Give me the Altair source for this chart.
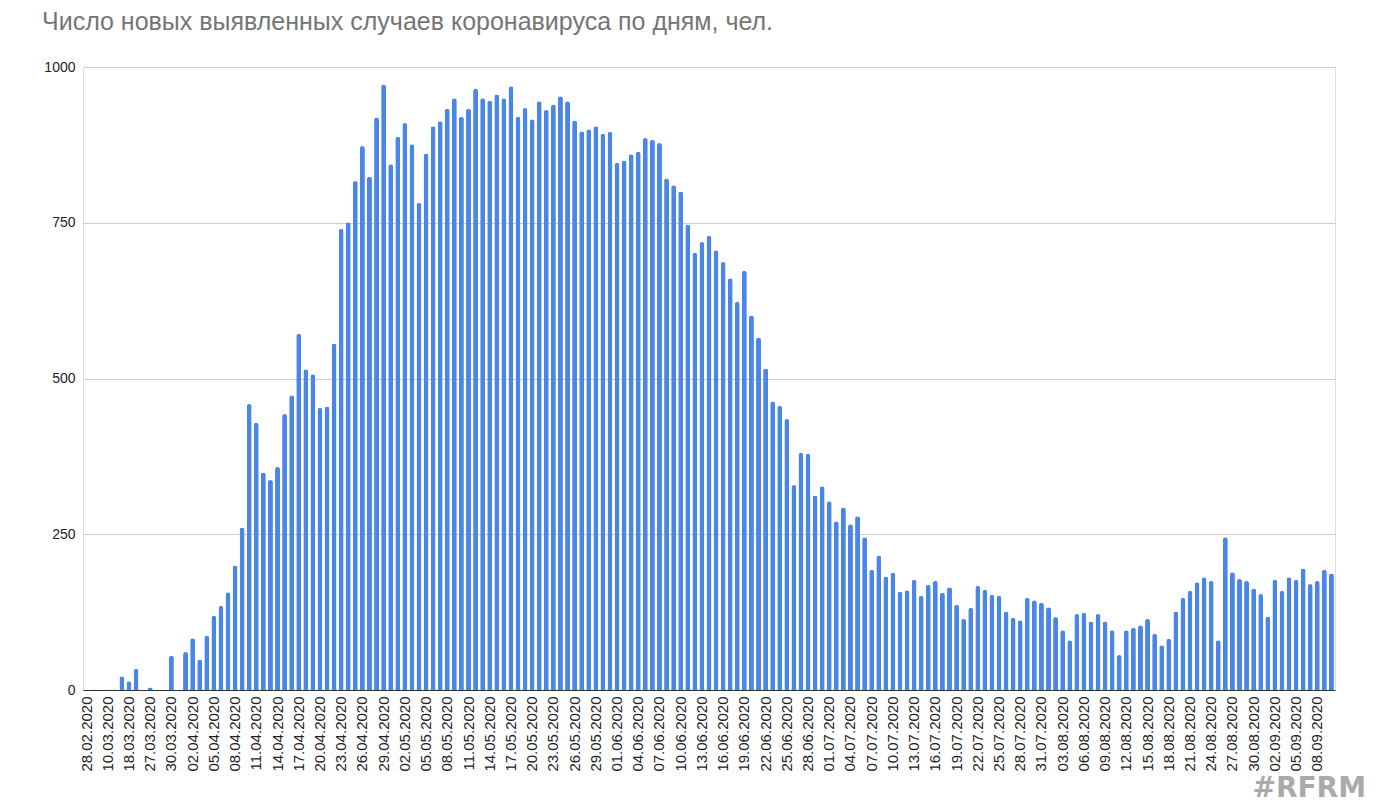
import altair as alt
import pandas as pd

# Category labels (early dates are sparse, then consecutive days)
early_dates = ["28.02.2020", "02.03.2020", "06.03.2020", "10.03.2020", "12.03.2020",
               "15.03.2020", "18.03.2020", "20.03.2020", "24.03.2020"]
later_dates = pd.date_range("2020-03-27", "2020-09-10").strftime("%d.%m.%Y").tolist()
dates = early_dates + later_dates

cases_part1 = [0, 1, 0, 1, 1, 22, 14, 34, 0, 4, 0, 0, 55]
cases_part2 = [0, 61, 83, 49, 87, 119, 135, 157, 200, 261, 459, 429, 349, 337, 358,
               443, 473, 572, 515, 507, 453, 455, 556, 740]
cases_part3 = [751, 817, 873, 824, 919, 972, 844, 888, 910, 876, 782, 861, 905, 913,
               933, 950, 920, 933, 965, 950, 946, 956, 950, 969, 920, 934, 916, 945,
               931, 940, 953, 945, 914, 897, 900, 905]
cases_part4 = [893, 896, 846, 850, 860, 864, 886, 883, 878, 821, 810, 800, 747, 702,
               719, 729, 706, 687, 661, 623, 673, 601, 566, 516, 463, 456, 435, 329,
               381, 379, 312, 327, 303, 271]
cases_part5 = [293, 266, 279, 245, 193, 216, 182, 188, 158, 160, 177, 151, 169, 175,
               156, 165, 137, 114, 132, 167, 161, 153, 151, 126, 116, 112, 148, 144,
               140, 133, 117, 96, 80, 122, 124]
cases_part6 = [110, 122, 110, 96, 56, 96, 100, 104, 114, 90, 72, 82, 126, 148, 159,
               173, 181, 175, 80, 245, 189, 178, 175, 163, 154, 118, 177, 159, 181,
               177, 195, 170, 175, 193, 187]
cases = cases_part1 + cases_part2 + cases_part3 + cases_part4 + cases_part5 + cases_part6

y_ticks = [0, 250, 500, 750, 1000]
x_tick_labels = dates[::3]
title_text = "Число новых выявленных случаев коронавируса по дням, чел."
watermark_text = "#RFRM"

df = pd.DataFrame({"date": dates, "cases": cases})

FONT = "Liberation Sans"

bars = alt.Chart(df).mark_bar(
    color="#4a86e8", cornerRadiusTopLeft=2.5, cornerRadiusTopRight=2.5
).encode(
    x=alt.X(
        "date:N", sort=dates,
        scale=alt.Scale(paddingInner=0.3, paddingOuter=0.15),
        axis=alt.Axis(values=x_tick_labels, labelAngle=-90, title=None, ticks=False,
                      domainColor="#333333", labelFontSize=15, labelFont=FONT,
                      labelColor="#222222", labelPadding=6, grid=False,
                      labelOverlap=False, zindex=1),
    ),
    y=alt.Y(
        "cases:Q",
        scale=alt.Scale(domain=[0, 1000], nice=False),
        axis=alt.Axis(values=y_ticks, format="d", title=None, domain=False, ticks=False,
                      gridColor="#cccccc", labelFontSize=14, labelFont=FONT,
                      labelColor="#222222", labelPadding=8),
    ),
    tooltip=[alt.Tooltip("date:N", title="Дата"), alt.Tooltip("cases:Q", title="Случаев")],
)

title = alt.Chart(pd.DataFrame({"t": [title_text]})).mark_text(
    align="left", baseline="alphabetic", fontSize=25, font=FONT, color="#757575"
).encode(x=alt.value(-41), y=alt.value(-37), text="t:N")

watermark = alt.Chart(pd.DataFrame({"t": [watermark_text]})).mark_text(
    align="right", baseline="alphabetic", fontSize=28, fontWeight="bold",
    color="#aaaaaa", font="DejaVu Sans"
).encode(x=alt.value(1283), y=alt.value(730), text="t:N")

chart = alt.layer(bars, title, watermark).properties(
    width=1252, height=623,
    padding={"left": 75, "top": 59, "right": 32, "bottom": 113},
    autosize="none",
).configure_view(stroke=None).configure(background="white")

chart.save("out.html", embed_options={"renderer": "svg", "actions": False})
